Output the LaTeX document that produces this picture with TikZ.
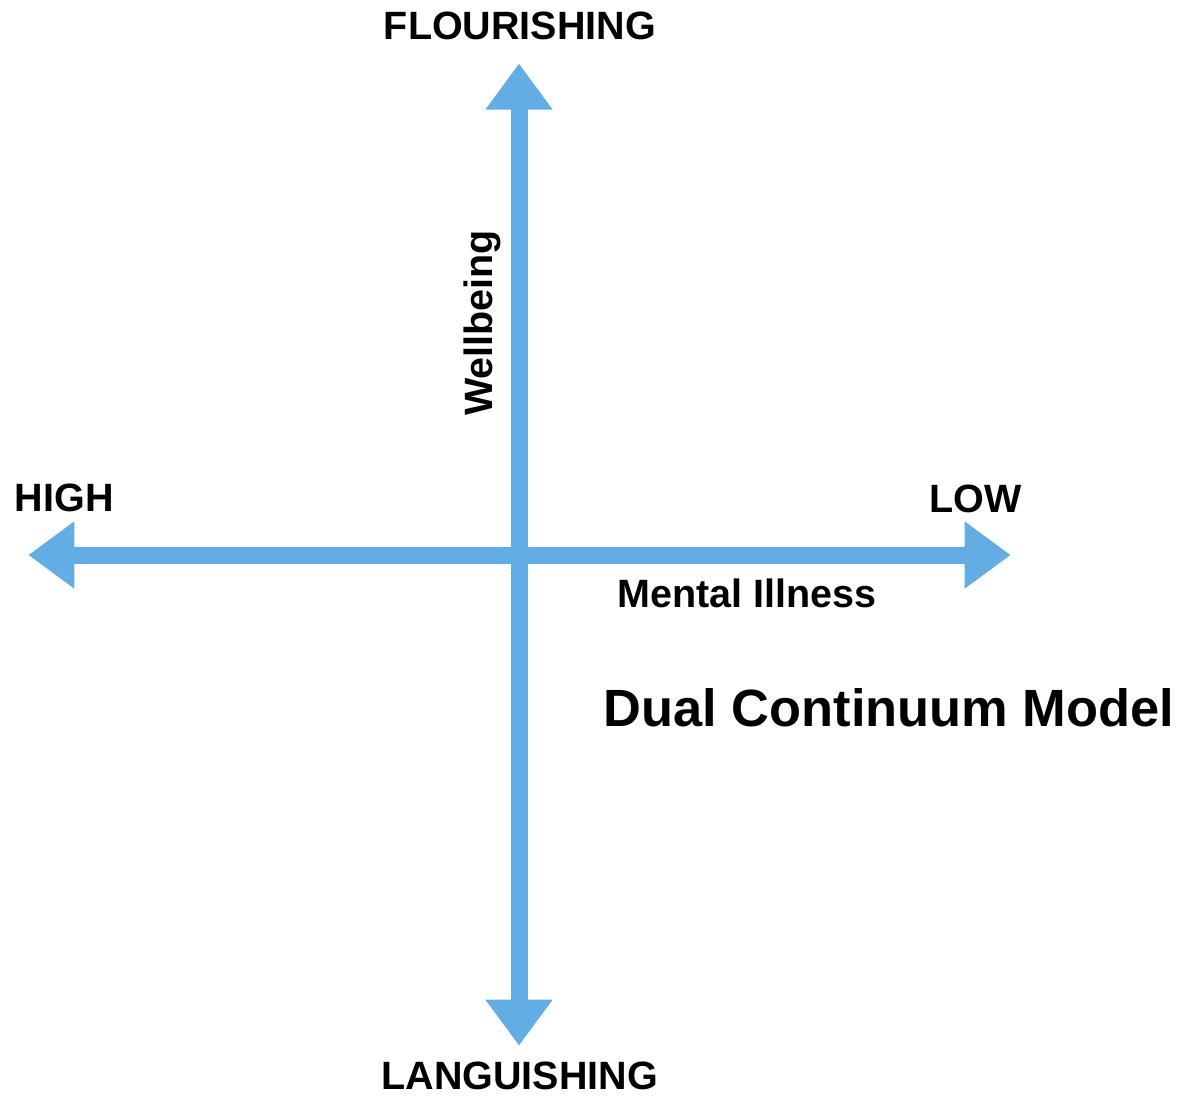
\documentclass[tikz,border=0pt]{standalone}
\usepackage{fontspec}
\setmainfont{Liberation Sans}
\usetikzlibrary{arrows.meta}
\definecolor{axisblue}{RGB}{98,173,227}
\begin{document}
\begin{tikzpicture}[x=1pt,y=1pt,
  axis/.style={draw=axisblue, line width=17pt, {Triangle[width=64pt,length=46pt]}-{Triangle[width=64pt,length=46pt]}},
  pole/.style={font=\bfseries\fontsize{39.5}{42}\selectfont, inner sep=0pt, anchor=base},
  axislabel/.style={font=\bfseries\fontsize{39.5}{42}\selectfont, inner sep=0pt, anchor=base},
  title/.style={font=\bfseries\fontsize{52.4}{55}\selectfont, inner sep=0pt, anchor=base}]
  \useasboundingbox (0,0) rectangle (1186,-1096);

  % end points of the two continua
  \coordinate (wtop) at (519,-63.5);
  \coordinate (wbot) at (519,-1045.7);
  \coordinate (mleft) at (28.3,-555);
  \coordinate (mright) at (1010.7,-555);

  % axes
  \draw[axis] (mleft) -- (mright);
  \draw[axis] (wbot) -- (wtop);

  % pole labels
  \node[pole] (flour) at (520,-39.3) {FLOURISHING};
  \node[pole] (lang) at (519.7,-1089.3) {LANGUISHING};
  \node[pole] (high) at (64.3,-511.7) {HIGH};
  \node[pole] (low) at (975.8,-512) {LOW};

  % axis names
  \node[axislabel] (mental) at (747,-607.5) {Mental Illness};
  \node[axislabel, rotate=90] (well) at (492,-323) {Wellbeing};

  % title
  \node[title] (model) at (889,-726) {Dual Continuum Model};
\end{tikzpicture}
\end{document}
